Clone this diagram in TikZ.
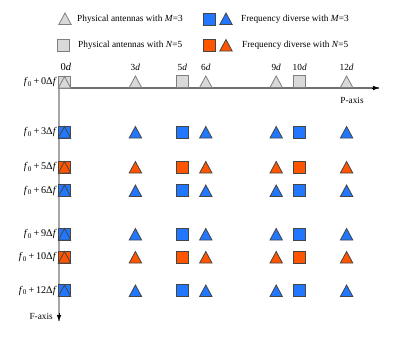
\documentclass[tikz,border=0pt]{standalone}
\usepackage{fontspec}
\setmainfont{Liberation Serif}
\usetikzlibrary{arrows.meta}
\definecolor{myblue}{HTML}{2277FF}
\definecolor{myorange}{HTML}{FF5500}
\definecolor{mygray}{HTML}{D9D9D9}
\definecolor{grayline}{HTML}{7F7F7F}
\definecolor{darkline}{HTML}{454545}
\definecolor{haxis}{HTML}{707070}
\definecolor{vaxis}{HTML}{A6A6A6}
\newcommand\mytri[3]{\draw[#1] (#2,#3) ++(-6.2,0) -- ++(12.4,0) -- ++(-6.2,-11.5) -- cycle;}
\newcommand\mysq[3]{\draw[#1] (#2,#3) ++(-6,0) rectangle ++(12,-12);}
\begin{document}
\begin{tikzpicture}[x=1pt,y=-1pt,font=\fontsize{9.3}{10}\selectfont,
  phys/.style={fill=mygray,draw=grayline,line width=0.8pt,line join=miter},
  bl/.style={fill=myblue,draw=darkline,line width=0.8pt,line join=miter},
  orr/.style={fill=myorange,draw=darkline,line width=0.8pt,line join=miter},
  lbl/.style={inner sep=0pt},
  rowlbl/.style={inner sep=0pt,anchor=east,font=\fontsize{10.2}{11}\selectfont},
  tip/.style={-{Latex[length=6pt,width=4.5pt]}}]
\useasboundingbox (0,0) rectangle (416,341);
% legend
\mytri{phys}{65}{24.5}
\node[lbl,anchor=west] (l1) at (77,19) {Physical antennas with \textit{M}=3};
\mysq{bl}{209.5}{25}
\mytri{bl}{226}{24.5}
\node[lbl,anchor=west] (l2) at (241,19) {Frequency diverse with \textit{M}=3};
\mysq{phys}{63.5}{51}
\node[lbl,anchor=west] (l3) at (78,45) {Physical antennas with \textit{N}=5};
\mysq{orr}{209.5}{51}
\mytri{orr}{226}{51}
\node[lbl,anchor=west] (l4) at (242,45) {Frequency diverse with \textit{N}=5};
% axes
\coordinate (O) at (59,88);
\coordinate (Pend) at (379,88);
\coordinate (Fend) at (59,321);
\draw[haxis,line width=1.1pt] (O) -- (Pend);
\draw[tip,black,line width=0pt] (372,88) -- (Pend);
\draw[vaxis,line width=1.6pt] (O) -- (Fend);
\draw[tip,black,line width=0pt] (59,313) -- (Fend);
\node[lbl] (px) at (352,100) {P-axis};
\node[lbl,anchor=east] (fx) at (53,316) {F-axis};
% column labels
\node[lbl,font=\fontsize{10.5}{11}\selectfont] (c1) at (66,67) {0\textit{d}};
\foreach \x/\t [count=\i from 2] in {135.4/3,182.3/5,205.8/6,276.2/9,299.7/10,346.6/12}
  \node[lbl] (c\i) at (\x,67) {\t\textit{d}};
% row 0
\mysq{phys}{64.5}{88}
\mytri{phys}{64.5}{88}
\foreach \x in {135.4,205.8,276.2,346.6} {\mytri{phys}{\x}{87.5}}
\foreach \x in {182.3,299.7} {\mysq{phys}{\x}{87.5}}
\node[rowlbl] (r0) at (57,82) {\textit{f}\textsubscript{0}\,+\,0Δ\textit{f}};
% rows
\foreach \yb/\st/\n [count=\i] in {138/bl/3,173/orr/5,196.5/bl/6,240/bl/9,263/orr/10,296.5/bl/12} {
  \mysq{\st}{64.5}{\yb}
  \mytri{\st}{64.5}{\yb}
  \foreach \x in {135.4,205.8,276.2,346.6} {\mytri{\st}{\x}{\yb}}
  \foreach \x in {182.3,299.7} {\mysq{\st}{\x}{\yb}}
  \node[rowlbl] (r\i) at (57,\yb-6) {\textit{f}\textsubscript{0}\,+\,\n Δ\textit{f}};
}
\end{tikzpicture}
\end{document}
